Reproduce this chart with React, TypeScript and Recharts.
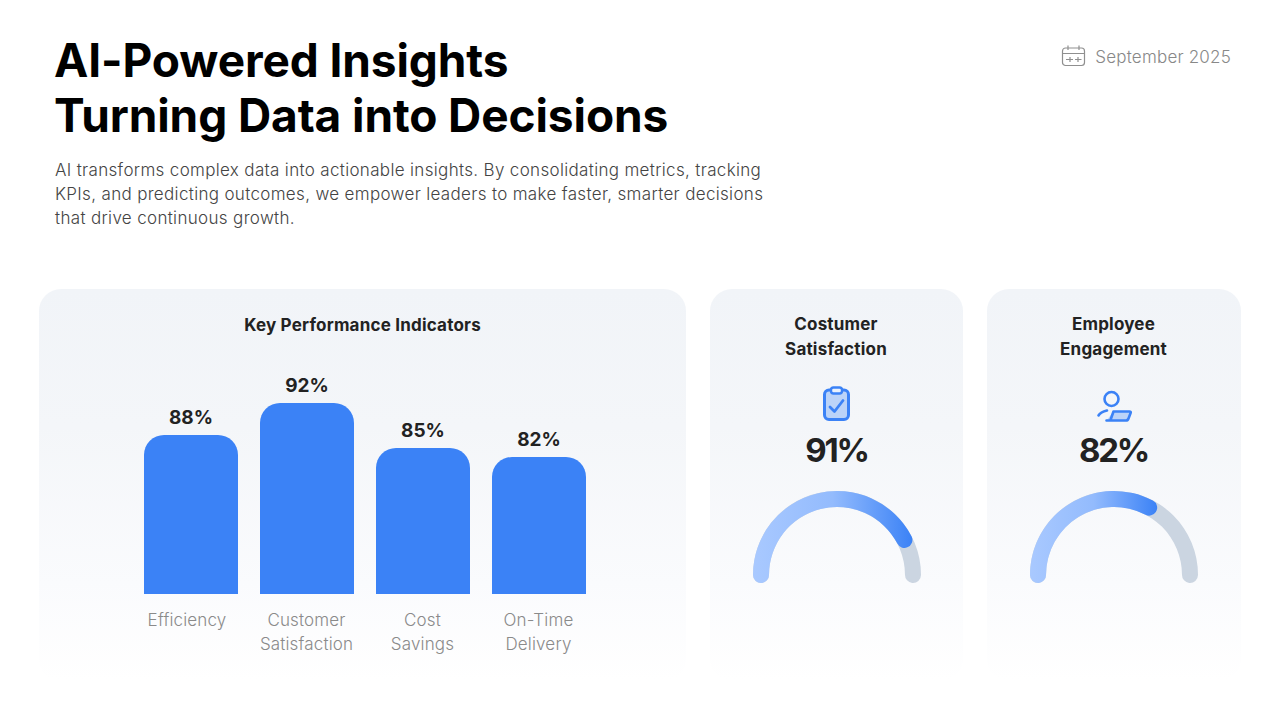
import { BarChart, Bar, XAxis, YAxis, LabelList, PieChart, Pie, Cell } from 'recharts';

const kpiNames = ['Efficiency', 'Customer Satisfaction', 'Cost Savings', 'On-Time Delivery'];
const kpiLabels = ['88%', '92%', '85%', '82%'];
// bar levels as drawn in the picture, on a 0-100 scale; they do not track the printed labels exactly
const kpiLevels = [79.5, 95.5, 73, 68.5];

const satisfactionLevels = [85.7, 14.3];
const engagementLevels = [67.5, 32.5];
const trackLevels = [100];

const kpiData = kpiNames.map((name, i) => ({ name, level: kpiLevels[i], label: kpiLabels[i] }));

const FONT = 'Inter, sans-serif';

const CategoryTick = ({ x, y, payload, index }: any) => {
    const words = String(payload.value).split(' ');
    // the first label sits a little left of its bar in the reference
    const tx = index === 0 ? x - 4 : x - 0.5;
    return (
        <text x={tx} textAnchor="middle" fontFamily={FONT} fontSize={17} fontWeight={300} letterSpacing={0.15} fill="#8a8a8a">
            {words.map((w, i) => (
                <tspan key={w} x={tx} y={y + 24 + i * 24}>{w}</tspan>
            ))}
        </text>
    );
};

const Gauge = ({ levels, id }: { levels: number[]; id: string }) => {
    const fillData = levels.map((value, i) => ({ name: i, value }));
    const trackData = trackLevels.map((value) => ({ name: 'track', value }));
    return (
        <PieChart width={200} height={110} margin={{ top: 0, right: 0, bottom: 0, left: 0 }}>
            <defs>
                <linearGradient id={id} x1="0" y1="0" x2="1" y2="0">
                    <stop offset="0%" stopColor="#A9C9FF" />
                    <stop offset="50%" stopColor="#93BBFD" />
                    <stop offset="100%" stopColor="#3B82F6" />
                </linearGradient>
            </defs>
            <Pie data={trackData} dataKey="value" cx={100} cy={85} startAngle={186} endAngle={-6} innerRadius={68} outerRadius={84}
                cornerRadius={8} stroke="none" fill="#CBD5E1" isAnimationActive={false} />
            <Pie data={fillData} dataKey="value" cx={100} cy={85} startAngle={186} endAngle={-6} innerRadius={68} outerRadius={84}
                cornerRadius={8} stroke="none" isAnimationActive={false}>
                <Cell fill={`url(#${id})`} />
                <Cell fill="none" />
            </Pie>
        </PieChart>
    );
};

const Card = ({ left, width }: { left: number; width: number }) => (
    <div style={{
        position: 'absolute', left, top: 289, width, height: 392, borderRadius: 22,
        background: 'linear-gradient(180deg, #F1F4F8 0%, #F4F6F9 35%, #FAFBFD 75%, #FFFFFF 100%)',
    }} />
);

const Text = ({ left, top, width, children, style }: any) => (
    <div style={{ position: 'absolute', left, top, width, whiteSpace: 'nowrap', ...style }}>{children}</div>
);

const cardTitle = { fontFamily: FONT, fontSize: 17, fontWeight: 700, letterSpacing: 0.2, color: '#222', textAlign: 'center', lineHeight: '25px' };
const bigValue = { fontFamily: FONT, fontSize: 33, fontWeight: 700, letterSpacing: -2.2, color: '#222', textAlign: 'center', lineHeight: '40px' };
const descLine = { fontFamily: FONT, fontSize: 17, fontWeight: 300, letterSpacing: 0.33, color: '#444', lineHeight: '24px' };
const headLine = { fontFamily: FONT, fontSize: 46, fontWeight: 700, letterSpacing: -0.1, color: '#000', lineHeight: '55px' };

export default function App() {
    return (
        <div style={{ position: 'absolute', left: 0, top: 0, width: 1280, height: 720, background: '#fff', overflow: 'hidden' }}>
            <Text left={54} top={33} style={headLine}>AI-Powered Insights</Text>
            <Text left={54} top={88} style={headLine}>Turning Data into Decisions</Text>

            <Text left={55} top={158} style={descLine}>AI transforms complex data into actionable insights. By consolidating metrics, tracking</Text>
            <Text left={55} top={182} style={descLine}>KPIs, and predicting outcomes, we empower leaders to make faster, smarter decisions</Text>
            <Text left={55} top={206} style={descLine}>that drive continuous growth.</Text>

            <svg style={{ position: 'absolute', left: 1061, top: 44 }} width={25} height={24} viewBox="0 0 25 24" fill="none" stroke="#8f8f8f" strokeWidth={1.2}>
                <rect x={1.5} y={4} width={22} height={17.5} rx={3} />
                <path d="M1.5 9.5H23.5M7 1.5V6M18 1.5V6M5 15.5H12M14 15.5H20.5M9 13V18M17 13V18" />
            </svg>
            <Text left={1075} top={45} width={156} style={{ fontFamily: FONT, fontSize: 17, fontWeight: 300, letterSpacing: 0.2, color: '#888', lineHeight: '24px', textAlign: 'right' }}>September 2025</Text>

            <Card left={39} width={647} />
            <Card left={710} width={253} />
            <Card left={987} width={254} />

            <Text left={39} top={313} width={647} style={cardTitle}>Key Performance Indicators</Text>

            <div style={{ position: 'absolute', left: 133, top: 354 }}>
                <BarChart width={464} height={310} data={kpiData} margin={{ top: 40, right: 0, bottom: 0, left: 0 }} barCategoryGap={11}>
                    <XAxis dataKey="name" axisLine={false} tickLine={false} height={70} interval={0} tick={<CategoryTick />} />
                    <YAxis hide domain={[0, 100]} />
                    <Bar dataKey="level" fill="#3B82F6" barSize={94} radius={[20, 20, 0, 0]} isAnimationActive={false}>
                        <LabelList dataKey="label" position="top" offset={11} fontFamily={FONT} fontSize={19} fontWeight={700} fill="#222" />
                    </Bar>
                </BarChart>
            </div>

            <Text left={710} top={312} width={252} style={cardTitle}>Costumer</Text>
            <Text left={710} top={337} width={252} style={cardTitle}>Satisfaction</Text>
            <svg style={{ position: 'absolute', left: 822, top: 386 }} width={29} height={36} viewBox="0 0 29 36">
                <rect x={2.5} y={4} width={24} height={29.5} rx={4.5} fill="#BBD3F8" stroke="#3B82F6" strokeWidth={3} />
                <rect x={9} y={1.5} width={11} height={6} rx={2.5} fill="#EAF1FC" stroke="#3B82F6" strokeWidth={2.4} />
                <path d="M8 21L12.5 25.5L21 14.5" fill="none" stroke="#3B82F6" strokeWidth={2.8} strokeLinecap="round" strokeLinejoin="round" />
            </svg>
            <Text left={710} top={430} width={253} style={bigValue}>91%</Text>
            <div style={{ position: 'absolute', left: 736.5, top: 490 }}>
                <Gauge levels={satisfactionLevels} id="gaugeA" />
            </div>

            <Text left={987} top={312} width={253} style={cardTitle}>Employee</Text>
            <Text left={987} top={337} width={253} style={cardTitle}>Engagement</Text>
            <svg style={{ position: 'absolute', left: 1096, top: 390 }} width={36} height={34} viewBox="0 0 36 34">
                <circle cx={15.5} cy={9} r={7} fill="none" stroke="#3B82F6" strokeWidth={2.6} />
                <path d="M2.5 25.5C4 23 7 21.5 11 20.5" fill="none" stroke="#3B82F6" strokeWidth={2.6} strokeLinecap="round" />
                <path d="M17.5 21.5H33.5C34.5 21.5 35 22 34.6 23L32.5 28.5C32 30 31 30.5 30 30.5H10.5M17.5 21.5L14.5 30" fill="#BBD3F8" stroke="#3B82F6" strokeWidth={2.6} strokeLinecap="round" strokeLinejoin="round" />
            </svg>
            <Text left={987} top={430} width={253} style={bigValue}>82%</Text>
            <div style={{ position: 'absolute', left: 1013.5, top: 490 }}>
                <Gauge levels={engagementLevels} id="gaugeB" />
            </div>
        </div>
    );
}
